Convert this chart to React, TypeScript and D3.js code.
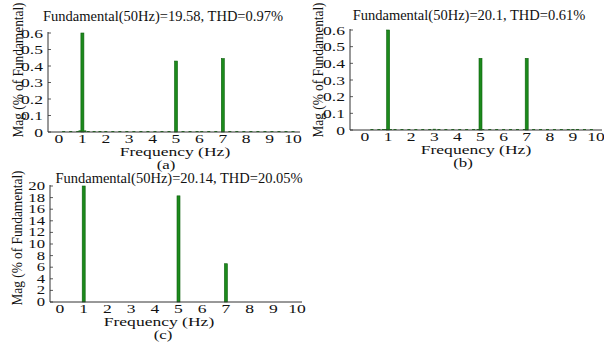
import React from "react";
import * as d3 from "d3";

// ---------- data ----------
const titleA = "Fundamental(50Hz)=19.58, THD=0.97%";
const titleB = "Fundamental(50Hz)=20.1, THD=0.61%";
const titleC = "Fundamental(50Hz)=20.14, THD=20.05%";

const xTicks = [0, 1, 2, 3, 4, 5, 6, 7, 8, 9, 10];
const yTicksAB = [0, 0.1, 0.2, 0.3, 0.4, 0.5, 0.6];
const yTicksC = [0, 2, 4, 6, 8, 10, 12, 14, 16, 18, 20];

const freqA = [0.2, 0.5, 0.8, 0.9, 1, 1.1, 1.25, 1.5, 1.75, 2, 2.3, 2.6, 2.9, 3.2, 3.5, 3.8, 4.1, 4.4, 4.7, 5, 5.3, 5.6, 5.9, 6.1, 6.4, 6.7, 7, 7.3, 7.6, 7.9, 8.2, 8.5, 8.8, 9.1, 9.4, 9.7, 10];
const magA = [0.002, 0.003, 0.006, 0.01, 0.6, 0.01, 0.006, 0.003, 0.004, 0.003, 0.003, 0.004, 0.003, 0.003, 0.003, 0.003, 0.004, 0.003, 0.003, 0.43, 0.003, 0.004, 0.003, 0.005, 0.003, 0.003, 0.445, 0.004, 0.003, 0.003, 0.003, 0.002, 0.003, 0.003, 0.002, 0.003, 0.004];

const freqB = [0.3, 0.6, 0.8, 0.9, 1, 1.1, 1.3, 1.6, 1.9, 2.2, 2.5, 2.8, 3, 3.2, 3.5, 3.8, 4.1, 4.4, 4.7, 4.9, 5, 5.1, 5.4, 5.7, 6, 6.3, 6.6, 6.9, 7, 7.3, 7.6, 7.9, 8.2, 8.5, 8.8, 9, 9.2, 9.5, 9.8];
const magB = [0.002, 0.003, 0.004, 0.006, 0.6, 0.004, 0.003, 0.003, 0.002, 0.003, 0.002, 0.003, 0.007, 0.003, 0.002, 0.003, 0.004, 0.003, 0.003, 0.004, 0.43, 0.004, 0.003, 0.002, 0.003, 0.002, 0.003, 0.003, 0.43, 0.002, 0.003, 0.002, 0.003, 0.002, 0.004, 0.006, 0.004, 0.002, 0.003];

const freqC = [1, 5, 7];
const magC = [20, 18.3, 6.6];

// ---------- component ----------
const FONT = "'Liberation Serif', 'Times New Roman', serif";
const GREEN = "#1c8a1c";
const SX = 1.3; // horizontal stretch of tick / axis-label text

type PanelProps = {
  ox: number; oy: number;
  axisLeft: number; x0: number; x10: number; xRight: number;
  yTopPx: number; yBotPx: number; yMax: number;
  yTicks: number[]; yFmt: (v: number) => string; yTickSize: number; yTickSX: number;
  freqs: number[]; mags: number[];
  title: string; titleX: number; titleY: number;
  xlabX: number; tag: string; tagX: number;
  ylabX: number; ylabY: number;
};

function SText(props: { x: number; y: number; sx?: number; anchor?: string; size: number; children: React.ReactNode }) {
  const sx = props.sx ?? SX;
  return (
    <text transform={`translate(${props.x},${props.y}) scale(${sx},1)`} dy="0.35em"
      textAnchor={props.anchor ?? "middle"} fontSize={props.size}>
      {props.children}
    </text>
  );
}

function Panel(p: PanelProps) {
  const x = d3.scaleLinear().domain([0, 10]).range([p.x0, p.x10]);
  const y = d3.scaleLinear().domain([0, p.yMax]).range([p.yBotPx, p.yTopPx]);
  const bw = 3;
  return (
    <g transform={`translate(${p.ox},${p.oy})`} fontFamily={FONT} fill="#111">
      {p.freqs.map((f, i) => {
        const h = Math.max(1, p.yBotPx - y(p.mags[i]));
        return (
          <rect key={i} x={x(f) - bw / 2} y={p.yBotPx - h} width={bw} height={h}
            fill={GREEN} stroke={p.mags[i] > p.yMax * 0.05 ? "#0d5e0d" : "none"} strokeWidth={0.6} />
        );
      })}
      <line x1={p.axisLeft} x2={p.axisLeft} y1={p.yTopPx - 1} y2={p.yBotPx} stroke="#333" strokeWidth={1} />
      <line x1={p.axisLeft} x2={p.xRight} y1={p.yBotPx} y2={p.yBotPx} stroke="#333" strokeWidth={1} />
      {p.yTicks.map((t) => (
        <g key={t}>
          <line x1={p.axisLeft} x2={p.axisLeft + 3} y1={y(t)} y2={y(t)} stroke="#333" strokeWidth={0.8} />
          <SText x={p.axisLeft - 5} y={y(t)} anchor="end" size={p.yTickSize} sx={p.yTickSX}>{p.yFmt(t)}</SText>
        </g>
      ))}
      {xTicks.map((t) => (
        <SText key={t} x={x(t)} y={p.yBotPx + 6} size={13.5}>{t}</SText>
      ))}
      <text x={p.titleX} y={p.titleY} dy="0.35em" textAnchor="middle" fontSize={14.5}>{p.title}</text>
      <SText x={p.xlabX} y={p.yBotPx + 19.5} size={13.5}>Frequency (Hz)</SText>
      <SText x={p.tagX} y={p.yBotPx + 32} size={13}>{p.tag}</SText>
      <text transform={`translate(${p.ylabX},${p.ylabY}) rotate(-90) scale(0.92,1)`} dy="0.35em" textAnchor="middle" fontSize={14.5}>
        Mag (% of Fundamental)
      </text>
    </g>
  );
}

export default function App() {
  const fmtAB = (v: number) => (v === 0 ? "0" : d3.format(".1f")(v));
  const fmtC = (v: number) => String(v);
  return (
    <svg width={604} height={345} style={{ position: "absolute", left: 0, top: 0, background: "#fff" }}>
      <rect width={604} height={345} fill="#fff" />
      <Panel ox={0} oy={0} axisLeft={48} x0={59} x10={293} xRight={300}
        yTopPx={33} yBotPx={132} yMax={0.6} yTicks={yTicksAB} yFmt={fmtAB} yTickSize={13.5} yTickSX={1.3}
        freqs={freqA} mags={magA} title={titleA} titleX={163} titleY={16}
        xlabX={175} tag="(a)" tagX={166} ylabX={18} ylabY={70} />
      <Panel ox={300} oy={0} axisLeft={50} x0={65} x10={296} xRight={302}
        yTopPx={30} yBotPx={130} yMax={0.6} yTicks={yTicksAB} yFmt={fmtAB} yTickSize={13.5} yTickSX={1.3}
        freqs={freqB} mags={magB} title={titleB} titleX={169} titleY={15}
        xlabX={176} tag="(b)" tagX={163} ylabX={18} ylabY={70} />
      <Panel ox={0} oy={170} axisLeft={50} x0={60} x10={297} xRight={302}
        yTopPx={16} yBotPx={132} yMax={20} yTicks={yTicksC} yFmt={fmtC} yTickSize={11.5} yTickSX={1.45}
        freqs={freqC} mags={magC} title={titleC} titleX={179} titleY={8}
        xlabX={159} tag="(c)" tagX={163} ylabX={17} ylabY={68} />
    </svg>
  );
}
